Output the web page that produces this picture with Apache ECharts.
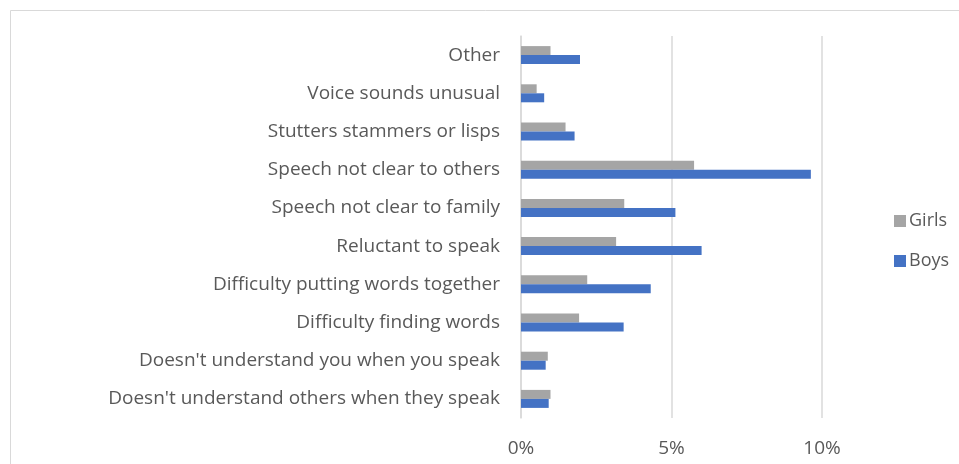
<!DOCTYPE html>
<html>
<head>
<meta charset="utf-8">
<script src="https://cdn.jsdelivr.net/npm/echarts@6/dist/echarts.min.js"></script>
<style>
  html, body { margin: 0; padding: 0; background: #ffffff; }
  #chart { width: 959px; height: 464px; }
</style>
</head>
<body>
<div id="chart"></div>
<script>
// Speech concerns reported, share of children (%), listed bottom to top
const categories = [
  "Doesn't understand others when they speak",
  "Doesn't understand you when you speak",
  "Difficulty finding words",
  "Difficulty putting words together",
  "Reluctant to speak",
  "Speech not clear to family",
  "Speech not clear to others",
  "Stutters stammers or lisps",
  "Voice sounds unusual",
  "Other"
];
const girls = [0.98, 0.89, 1.93, 2.2, 3.16, 3.43, 5.75, 1.48, 0.52, 0.98];
const boys  = [0.92, 0.82, 3.41, 4.31, 6.0, 5.13, 9.63, 1.78, 0.77, 1.96];
const xTicks = [0, 5, 10];

const FONT = 'Open Sans';
const TEXT = '#595959';

const chart = echarts.init(document.getElementById('chart'), null, { renderer: 'canvas' });
chart.setOption({
  animation: false,
  backgroundColor: '#ffffff',
  graphic: [{
    type: 'rect',
    shape: { x: 10.5, y: 10.5, width: 1000, height: 500 },
    style: { fill: 'none', stroke: '#d9d9d9', lineWidth: 1 },
    silent: true
  }],
  grid: { left: 521, right: 137, top: 36, bottom: 46, containLabel: false },
  legend: {
    orient: 'vertical',
    left: 889,
    top: 207,
    itemWidth: 12,
    itemHeight: 12,
    itemGap: 22,
    icon: 'rect',
    data: ['Girls', 'Boys'],
    textStyle: { color: TEXT, fontFamily: FONT, fontSize: 18, padding: [0, 0, 0, -2] }
  },
  xAxis: {
    type: 'value',
    min: xTicks[0],
    max: xTicks[xTicks.length - 1],
    interval: 5,
    axisLine: { show: false },
    axisTick: { show: false },
    splitLine: { show: true, lineStyle: { color: '#d9d9d9', width: 1.5 } },
    axisLabel: {
      color: TEXT, fontFamily: FONT, fontSize: 19, margin: 21,
      formatter: v => v + '%'
    }
  },
  yAxis: {
    type: 'category',
    data: categories,
    axisLine: { show: true, lineStyle: { color: '#d9d9d9', width: 1.5 } },
    axisTick: { show: false },
    axisLabel: { color: TEXT, fontFamily: FONT, fontSize: 19, margin: 21 }
  },
  series: [
    {
      name: 'Girls', type: 'bar', data: girls, barWidth: 9, barGap: '0%',
      itemStyle: { color: '#a5a5a5' }
    },
    {
      name: 'Boys', type: 'bar', data: boys, barWidth: 9, barGap: '0%',
      itemStyle: { color: '#4472c4' }
    }
  ]
});
</script>
</body>
</html>
